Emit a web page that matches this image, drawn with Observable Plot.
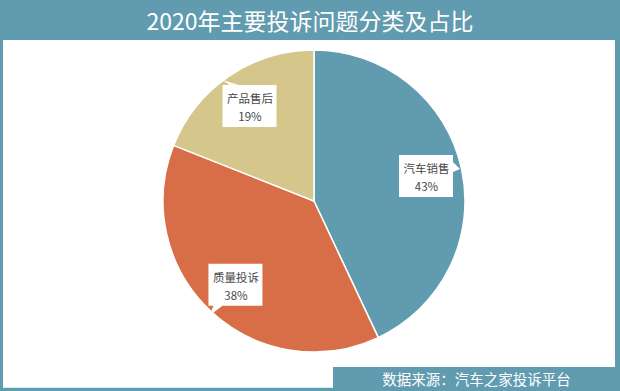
<!DOCTYPE html>
<html><head><meta charset="utf-8">
<script src="https://cdn.jsdelivr.net/npm/d3@7"></script>
<script src="https://cdn.jsdelivr.net/npm/@observablehq/plot@0.6"></script>
<style>
body{margin:0;background:#fff;}
#root{position:relative;width:620px;height:391px;background:#609bb0;overflow:hidden;font-family:"Noto Sans CJK SC","Noto Sans",sans-serif;}
#title{position:absolute;left:0;top:0;width:620px;height:40px;line-height:40px;text-align:center;color:#fff;font-size:23px;}
#panel{position:absolute;left:3px;top:40px;width:612px;height:347px;background:#fff;border-bottom:1px solid #cfeef3;}
#chart{position:absolute;left:3px;top:40px;}
#source{position:absolute;left:333px;top:367px;width:287px;height:24px;background:#609bb0;color:#fff;font-size:14.5px;line-height:24px;text-align:center;}
</style></head>
<body>
<div id="root">
  <div id="title">2020年主要投诉问题分类及占比</div>
  <div id="panel"></div>
  <div id="chart"></div>
  <div id="source">数据来源：汽车之家投诉平台</div>
</div>
<script>
const categories = ["汽车销售", "质量投诉", "产品售后"];
const shares = [43, 38, 19];
const percentLabels = ["43%", "38%", "19%"];
const sliceColors = ["#609bb0", "#d86e47", "#d5c78b"];

// callout pointer style per category (box-relative pixel offsets)
const pointerShapes = {
  "汽车销售": [[27, -14], [34, -7], [27, -4]],
  "质量投诉": [[-22, 21], [-26, 31], [-13, 21]],
  "产品售后": [[-20, -21], [-27, -26], [-11, -21]]
};

const data = categories.map((c, i) => ({category: c, share: shares[i], pct: percentLabels[i]}));
const arcs = d3.pie().sort(null).value(d => d.share)(data);
const LABEL_R = 0.76;
const labels = arcs.map(a => {
  const m = (a.startAngle + a.endAngle) / 2;
  return {...a.data, x: LABEL_R * Math.sin(m), y: LABEL_R * Math.cos(m)};
});
const fallbackColor = d3.scaleOrdinal(categories, sliceColors);

function pieMark(...args) {
  const scales = args.find(a => a && typeof a.x === "function" && typeof a.y === "function");
  const cx = scales.x(0), cy = scales.y(0), r = scales.x(1) - cx;
  const color = (scales.color && typeof scales.color === "function") ? scales.color : fallbackColor;
  const g = d3.create("svg:g");
  const arc = d3.arc().innerRadius(0).outerRadius(r);
  g.append("g").attr("transform", `translate(${cx},${cy})`)
    .selectAll("path").data(arcs).join("path")
    .attr("d", arc)
    .attr("fill", d => color(d.data.category))
    .attr("stroke", "#fff").attr("stroke-width", 1.5).attr("stroke-linejoin", "round");
  const bw = 27, bh = 21;
  g.append("g").selectAll("path").data(labels).join("path")
    .attr("transform", d => `translate(${scales.x(d.x)},${scales.y(d.y)})`)
    .attr("d", d => `M${-bw},${-bh}H${bw}V${bh}H${-bw}Z` + "M" + pointerShapes[d.category].map(p => p.join(",")).join("L") + "Z")
    .attr("fill", "#fff");
  return g.node();
}

const chart = Plot.plot({
  width: 612,
  height: 347,
  marginLeft: 160,
  marginRight: 150,
  marginTop: 10,
  marginBottom: 35,
  x: {domain: [-1, 1], axis: null},
  y: {domain: [-1, 1], axis: null},
  color: {domain: categories, range: sliceColors},
  style: {background: "transparent", fontFamily: "'Noto Sans CJK SC', sans-serif", overflow: "visible"},
  marks: [
    pieMark,
    Plot.text(labels, {
      x: "x", y: "y",
      text: d => `${d.category}\n${d.pct}`,
      fontSize: 11.5,
      lineHeight: 1.56,
      fill: "#484848"
    })
  ]
});
document.getElementById("chart").appendChild(chart);
</script>
</body></html>
